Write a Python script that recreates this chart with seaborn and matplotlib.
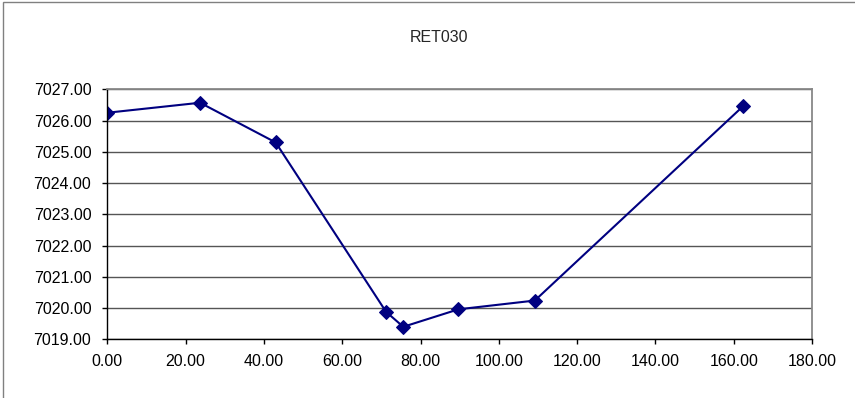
import pandas as pd
import matplotlib.pyplot as plt
import seaborn as sns
from matplotlib.patches import Rectangle

distance = [0.0, 23.7, 43.0, 71.2, 75.6, 89.7, 109.2, 162.4]
elevation = [7026.25, 7026.57, 7025.30, 7019.88, 7019.40, 7019.96, 7020.24, 7026.46]
x_ticks = [0, 20, 40, 60, 80, 100, 120, 140, 160, 180]
y_ticks = [7019, 7020, 7021, 7022, 7023, 7024, 7025, 7026, 7027]

df = pd.DataFrame({'distance': distance, 'elevation': elevation})

sns.set_theme(style="white")
plt.rcParams['font.family'] = ['Liberation Sans', 'DejaVu Sans']

fig = plt.figure(figsize=(8.55, 3.98), dpi=100)
ax = fig.add_axes([107.3 / 855, 1 - 339.3 / 398, (812 - 107.3) / 855, (339.3 - 89.3) / 398])

sns.lineplot(data=df, x='distance', y='elevation', ax=ax, color='#000080',
             marker='D', markersize=7, markeredgecolor='#000080', linewidth=1.5)

ax.set_xlim(0, 180)
ax.set_ylim(7019, 7027)
ax.set_xticks(x_ticks)
ax.set_yticks(y_ticks)
ax.set_xticklabels([f'{v:.2f}' for v in x_ticks])
ax.set_yticklabels([f'{v:.2f}' for v in y_ticks])
ax.tick_params(axis='both', labelsize=11.5, colors='black', length=3.5, width=1, direction='out')
ax.tick_params(axis='x', bottom=True, pad=7)
ax.tick_params(axis='y', left=True, pad=8)
ax.yaxis.grid(True, color='#555555', linewidth=1)
ax.set_axisbelow(True)
ax.set_xlabel('')
ax.set_ylabel('')

for side in ['top', 'right']:
    ax.spines[side].set_color('#888888')
    ax.spines[side].set_linewidth(1.3)
for side in ['left', 'bottom']:
    ax.spines[side].set_color('black')
    ax.spines[side].set_linewidth(1)

fig.text(439 / 855, 1 - 37 / 398, 'RET030', ha='center', va='center', fontsize=11.5)

fig.patches.append(Rectangle((3 / 855, -0.1), 1.1, 1.1 - 2 / 398, transform=fig.transFigure,
                             fill=False, edgecolor='#808080', linewidth=1))

fig.savefig('out.png', dpi=100)
